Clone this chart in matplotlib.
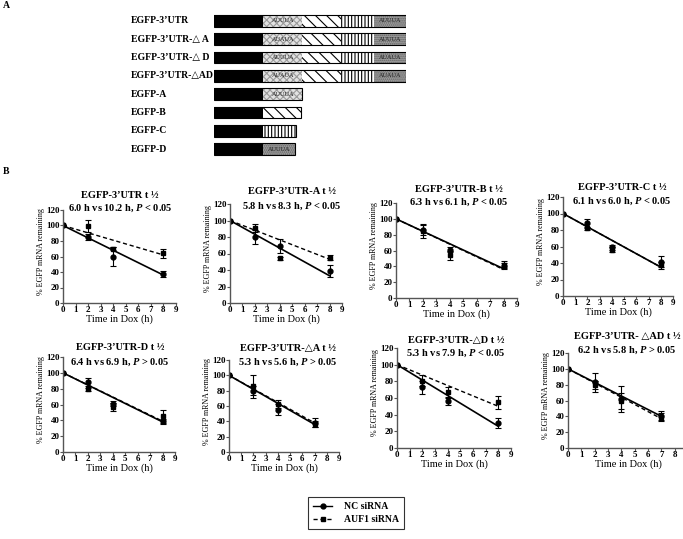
import numpy as np
import matplotlib
matplotlib.use("Agg")
import matplotlib.pyplot as plt
from matplotlib.lines import Line2D

plt.rcParams["font.family"] = ["Liberation Serif", "DejaVu Sans"]
plt.rcParams["font.weight"] = "bold"
plt.rcParams["mathtext.fontset"] = "custom"
plt.rcParams["mathtext.rm"] = "Liberation Serif:bold"
plt.rcParams["mathtext.bfit"] = "Liberation Serif:italic:bold"
plt.rcParams["hatch.linewidth"] = 0.8

W, H = 683, 539

# ---- panel A: construct maps (segment lengths) ----
constructs = ["EGFP-3’UTR", "EGFP-3’UTR-△ A", "EGFP-3’UTR-△ D", "EGFP-3’UTR-△AD",
              "EGFP-A", "EGFP-B", "EGFP-C", "EGFP-D"]
construct_segments = [
    ["EGFP", "A", "B", "C", "D"],
    ["EGFP", "A", "B", "C", "D"],
    ["EGFP", "A", "B", "C", "D"],
    ["EGFP", "A", "B", "C", "D"],
    ["EGFP", "A"],
    ["EGFP", "B"],
    ["EGFP", "C"],
    ["EGFP", "D"],
]
motif_text = [
    {"A": "AUUUA", "D": "AUUUA"},
    {"A": "AUAUA", "D": "AUUUA"},
    {"A": "AUUUA", "D": "AUAUA"},
    {"A": "AUAUA", "D": "AUAUA"},
    {"A": "AUUUA"},
    {},
    {},
    {"D": "AUUUA"},
]
segment_len = {"EGFP": 49, "A": 39, "B": 38, "C": 33, "D": 32}

# ---- panel B: decay curves ----
titles = ["EGFP-3’UTR t ½", "EGFP-3’UTR-A t ½", "EGFP-3’UTR-B t ½", "EGFP-3’UTR-C t ½",
          "EGFP-3’UTR-D t ½", "EGFP-3’UTR-△A t ½", "EGFP-3’UTR-△D t ½", "EGFP-3’UTR- △AD t ½"]
subtitles = ["6.0 h vs 10.2 h, $\\mathbfit{P}$ < 0.05", "5.8 h vs 8.3 h, $\\mathbfit{P}$ < 0.05",
             "6.3 h vs 6.1 h, $\\mathbfit{P}$ < 0.05", "6.1 h vs 6.0 h, $\\mathbfit{P}$ < 0.05",
             "6.4 h vs 6.9 h, $\\mathbfit{P}$ > 0.05", "5.3 h vs 5.6 h, $\\mathbfit{P}$ > 0.05",
             "5.3 h vs 7.9 h, $\\mathbfit{P}$ < 0.05", "6.2 h vs 5.8 h, $\\mathbfit{P}$ > 0.05"]
times = [[0, 2, 4, 8], [0, 2, 4, 8], [0, 2, 4, 8], [0, 2, 4, 8],
         [0, 2, 4, 8], [0, 2, 4, 7], [0, 2, 4, 8], [0, 2, 4, 7]]
nc_vals = [[100, 85, 60, 37], [100, 80, 69, 39], [100, 86, 61, 41], [100, 88, 59, 41],
           [100, 88, 61, 39], [100, 80, 55, 38], [100, 73, 56, 30], [100, 83, 62, 41]]
nc_err = [[0, 4, 12, 4], [0, 8, 8, 7], [0, 6, 3, 3], [0, 5, 3, 8],
          [0, 5, 3, 3], [0, 6, 7, 6], [0, 8, 4, 6], [0, 12, 16, 6]]
auf_vals = [[100, 99, 70, 64], [100, 91, 54, 55], [100, 85, 54, 42], [100, 82, 56, 38],
            [100, 79, 57, 45], [100, 86, 63, 37], [100, 81, 67, 55], [100, 80, 59, 39]]
auf_err = [[0, 8, 2, 6], [0, 5, 2, 3], [0, 9, 6, 5], [0, 2, 3, 3],
           [0, 2, 5, 8], [0, 15, 5, 4], [0, 7, 6, 8], [0, 5, 10, 5]]
# trend line values at t=0 and the last time point
nc_fit = [[100, 36], [100, 33], [100, 37], [100, 35], [100, 38], [100, 36], [100, 26], [100, 40]]
auf_fit = [[100, 62], [100, 53], [100, 36], [100, 35], [100, 39], [100, 38], [100, 50], [100, 37]]

# layout in pixels: left, right(x=9), top(y=120), bottom(y=0)
AX_PX = [(63, 176, 210, 303), (230, 342, 204, 303), (396, 517, 203, 298), (563, 673, 197, 296),
         (63, 175, 357, 452), (229, 339, 360, 452), (397, 511, 348, 448), (568, 688, 353, 448)]
# title line centres (x, y1, y2)
TITLE_PX = [(120, 195, 208), (292, 192, 206), (459, 190, 202), (622, 188, 201),
            (120, 348, 362), (288, 348, 362), (456, 340, 353), (627, 337, 350)]


def rect(l, r, t, b):
    return [l / W, 1 - b / H, (r - l) / W, (b - t) / H]


def _style(name):
    if name == "EGFP":
        return dict(facecolor="black", edgecolor="black", hatch=None)
    if name == "A":
        return dict(facecolor="#e2e2e2", edgecolor="#9a9a9a", hatch="xxxxx")
    if name == "B":
        return dict(facecolor="white", edgecolor="black", hatch="\\\\\\")
    if name == "C":
        return dict(facecolor="white", edgecolor="black", hatch="|||||")
    return dict(facecolor="#a0a0a0", edgecolor="#606060", hatch="........")


def draw_panel_a(fig):
    total = sum(segment_len[s] for s in construct_segments[0])
    ax = fig.add_axes(rect(214, 406, 11.85, 158.15))
    ax.set_xlim(0, total)
    ax.set_ylim(len(constructs) - 0.5, -0.5)
    ax.axis("off")
    for i, (name, segs) in enumerate(zip(constructs, construct_segments)):
        left = 0
        for s in segs:
            st = _style(s)
            ax.barh(i, segment_len[s], left=left, height=0.64, linewidth=0, **st)
            if s in motif_text[i]:
                ax.text(left + segment_len[s] / 2, i, motif_text[i][s], ha="center",
                        va="center", fontsize=4.5, color="#222222", fontweight="normal")
            left += segment_len[s]
        ax.barh(i, left, height=0.64, fill=False, edgecolor="black", linewidth=0.8)
        ax.text(-83, i, name, ha="left", va="center", fontsize=7)


def draw_decay(fig, k):
    l, r, t, b = AX_PX[k]
    ax = fig.add_axes(rect(l, r, t, b))
    tt = times[k]
    ax.errorbar(tt, nc_vals[k], yerr=nc_err[k], fmt="none", ecolor="black",
                elinewidth=0.8, capsize=2, capthick=0.8)
    ax.errorbar(tt, auf_vals[k], yerr=auf_err[k], fmt="none", ecolor="black",
                elinewidth=0.8, capsize=2, capthick=0.8)
    ax.plot([tt[0], tt[-1]], nc_fit[k], color="black", lw=1.2)
    ax.plot([tt[0], tt[-1]], auf_fit[k], color="black", lw=1.0, ls=(0, (3, 2)))
    ax.plot(tt, nc_vals[k], "o", color="black", ms=3.5)
    ax.plot(tt, auf_vals[k], "s", color="black", ms=3.5)

    ax.set_xlim(0, 9)
    ax.set_ylim(0, 120)
    ax.set_xticks(range(10))
    ax.set_yticks(range(0, 121, 20))
    for side in ("top", "right"):
        ax.spines[side].set_visible(False)
    for side in ("left", "bottom"):
        ax.spines[side].set_color("#555555")
        ax.spines[side].set_linewidth(1.0)
    ax.tick_params(length=2, width=0.8, color="#555555", labelsize=6.5, pad=0.5)
    ax.set_xlabel("Time in Dox (h)", fontsize=7.5)
    ax.set_ylabel("% EGFP mRNA remaining", fontsize=5.8)
    ax.xaxis.set_label_coords(0.5, -11 / (b - t))
    ax.yaxis.set_label_coords(-18 / (r - l), 0.55)

    cx, y1, y2 = TITLE_PX[k]
    fig.text(cx / W, 1 - y1 / H, titles[k], ha="center", va="center", fontsize=7.5)
    fig.text(cx / W, 1 - y2 / H, subtitles[k], ha="center", va="center", fontsize=7.5)


def main():
    fig = plt.figure(figsize=(W / 100, H / 100), dpi=100)
    fig.text(3 / W, 1 - 5 / H, "A", ha="left", va="center", fontsize=7)
    fig.text(3 / W, 1 - 172 / H, "B", ha="left", va="center", fontsize=7)

    draw_panel_a(fig)
    for k in range(len(titles)):
        draw_decay(fig, k)

    handles = [Line2D([], [], color="black", ls="-", lw=1.0, marker="o", ms=3.5),
               Line2D([], [], color="black", ls=(0, (3, 2)), lw=1.0, marker="s", ms=3.5)]
    leg = fig.legend(handles, ["NC siRNA", "AUF1 siRNA"], loc="center",
                     bbox_to_anchor=(356 / W, 1 - 513 / H), fontsize=7, frameon=True,
                     fancybox=False, edgecolor="black", handlelength=2.0,
                     borderpad=0.5, labelspacing=0.4, handletextpad=1.2)
    leg.get_frame().set_linewidth(0.8)

    fig.savefig("out.png", dpi=100)
    plt.close(fig)


if __name__ == "__main__":
    main()
